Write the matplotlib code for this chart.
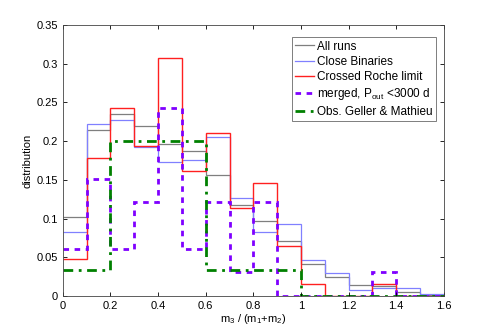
import numpy as np
import matplotlib
matplotlib.use("Agg")
import matplotlib.pyplot as plt

plt.rcParams['font.family'] = ['Liberation Sans', 'DejaVu Sans']
plt.rcParams['mathtext.fontset'] = 'custom'
plt.rcParams['mathtext.rm'] = 'Liberation Sans'
plt.rcParams['mathtext.it'] = 'Liberation Sans'

# bin edges of m3/(m1+m2), width 0.1
edges = np.round(np.arange(0, 1.61, 0.1), 2)

# distribution per bin
all_runs = [0.102, 0.214, 0.235, 0.220, 0.196, 0.187, 0.156, 0.117,
            0.097, 0.071, 0.041, 0.0245, 0.0138, 0.0125, 0.0056, 0.001]
close_bin = [0.083, 0.222, 0.227, 0.192, 0.1735, 0.176, 0.205, 0.127,
             0.083, 0.0935, 0.047, 0.029, 0.0073, 0.010, 0.0103, 0.002]
roche = [0.048, 0.178, 0.2425, 0.194, 0.308, 0.1615, 0.210, 0.113,
         0.1455, 0.0646, 0.015, 0.0, 0.0, 0.015, 0.0, 0.0]
merged = [0.0606, 0.1515, 0.0606, 0.1212, 0.2424, 0.0606, 0.1212, 0.0303,
          0.1212, 0.0, 0.0, 0.0, 0.0, 0.0303, 0.0, 0.0]
geller = [0.0333, 0.0333, 0.2, 0.2, 0.2, 0.2, 0.0333, 0.0333,
          0.0333, 0.0333, 0.0, 0.0, 0.0, 0.0, 0.0, 0.0]

fig = plt.figure(figsize=(4.91, 3.34), dpi=100)
ax = fig.add_axes([0.128, 0.114, 0.776, 0.811])

ax.stairs(all_runs, edges, baseline=None, color='#7f7f7f', lw=0.9, label='All runs')
ax.stairs(close_bin, edges, baseline=None, color='#8080ff', lw=0.9, label='Close Binaries')
ax.stairs(roche, edges, baseline=None, color='#ff2020', lw=1.0, label='Crossed Roche limit')
ax.stairs(merged, edges, baseline=None, color='#7f00ff', lw=2.0, ls=(0, (2, 2)),
          label='merged, P$_{\\mathrm{out}}$ <3000 d')
ax.stairs(geller, edges, baseline=None, color='#008000', lw=2.0, ls=(0, (3.5, 2, 1, 2)),
          label='Obs. Geller & Mathieu')

ax.set_xlim(0, 1.6)
ax.set_ylim(0, 0.35)
ax.set_xticks(np.arange(0, 1.61, 0.2))
ax.set_xticklabels(['0', '0.2', '0.4', '0.6', '0.8', '1', '1.2', '1.4', '1.6'])
ax.set_yticks(np.arange(0, 0.351, 0.05))
ax.set_yticklabels(['0', '0.05', '0.1', '0.15', '0.2', '0.25', '0.3', '0.35'])
ax.tick_params(direction='in', top=True, right=True, labelsize=8, length=3, width=0.6)
for s in ax.spines.values():
    s.set_linewidth(0.6)
    s.set_color('#444444')

ax.set_xlabel('m$_3$ / (m$_1$+m$_2$)', fontsize=8, labelpad=1)
ax.set_ylabel('distribution', fontsize=8, labelpad=3)

leg = ax.legend(loc='upper right', fontsize=8.5, handlelength=1.6, handletextpad=0.2,
                borderpad=0.3, labelspacing=0.28, fancybox=False,
                bbox_to_anchor=(0.979, 0.956), borderaxespad=0)
leg.get_frame().set_edgecolor('#444444')
leg.get_frame().set_linewidth(0.6)

fig.savefig('out.png', dpi=100)
